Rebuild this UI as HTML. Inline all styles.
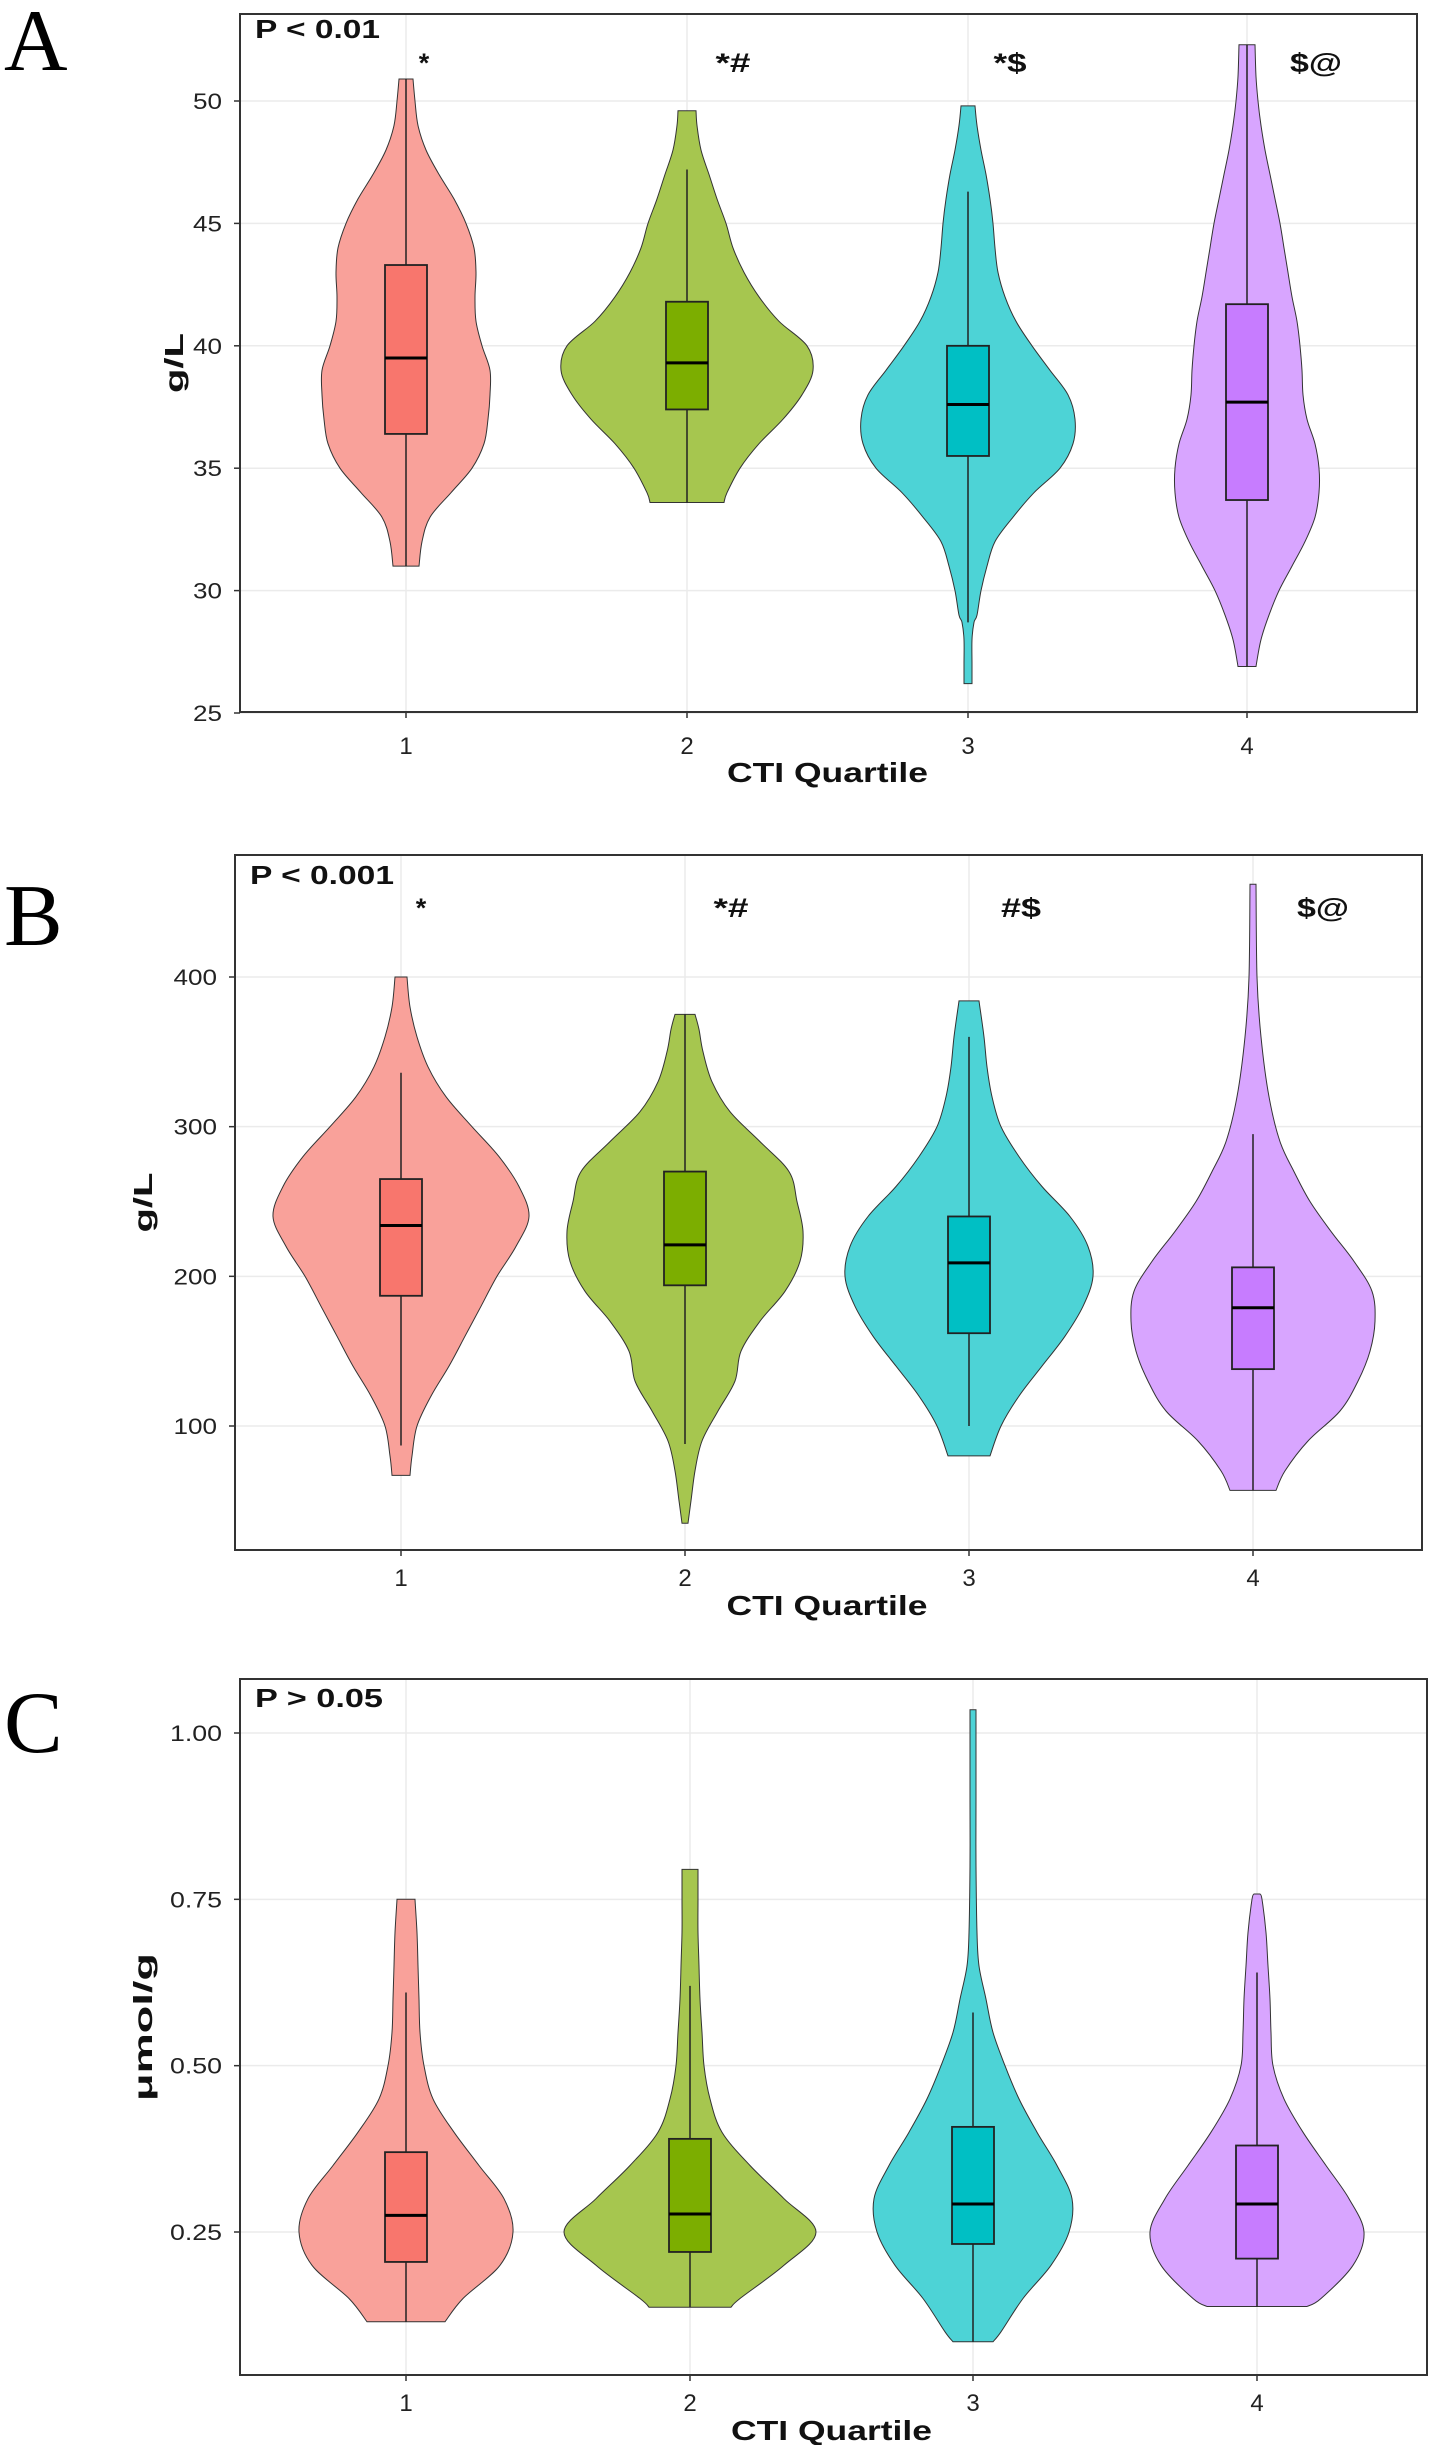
<!DOCTYPE html>
<html><head><meta charset="utf-8">
<style>
html,body{margin:0;padding:0;background:#fff;}
svg{display:block;font-family:"Liberation Sans",Arial,sans-serif;}
</style></head>
<body>
<svg id="chart" width="1429" height="2445" viewBox="0 0 1429 2445" xmlns="http://www.w3.org/2000/svg"></svg>
<script>
// ---- data ----
const categories = ["1","2","3","4"];
const fills = ["#F9A19A","#A6C64F","#4DD3D6","#D8A5FF"];
const boxFills = ["#F8766D","#7CAE00","#00BFC4","#C77CFF"];

// Panel A: [value, density half-width]
const violinA = [
 [[31,13],[32,16],[33,24],[34,45],[35,66],[36,78],[37,82],[38,84],[39,84],[40,76],[41,70],[42,69],[43,70],[44,68],[45,60],[46,48],[47,33],[48,20],[49,12],[50,9],[50.9,7]],
 [[33.6,37],[34,40],[35,53],[36,72],[37,96],[38,115],[39,126],[40,120],[41,92],[42,72],[43,57],[44,46],[45,39],[46,30],[47,22],[48,14],[49,10],[49.6,9]],
 [[26.2,4],[27,4],[28,4],[28.7,6],[29,9],[30,13],[31,19],[32,27],[33,45],[34,66],[35,92],[36,105],[37,107],[38,100],[39,82],[40,64],[41,48],[42,37],[43,30],[44,27],[45,25],[46,22],[47,18],[48,13],[49,9],[49.8,7]],
 [[26.9,9],[28,14],[29,22],[30,32],[31,45],[32,58],[33,68],[34,72],[35,72],[36,68],[37,60],[38,56],[39,55],[40,53],[41,50],[42,45],[43,41],[44,37],[45,33],[46,28],[47,23],[48,18],[49,14],[50,11],[51,9],[52.3,8]]
];
const boxA = [[31.0,36.4,39.5,43.3,50.9],[33.6,37.4,39.3,41.8,47.2],[28.7,35.5,37.6,40.0,46.3],[26.9,33.7,37.7,41.7,52.3]];
const ticksA = [25,30,35,40,45,50];
const tickLabelsA = ["25","30","35","40","45","50"];
const annotA = ["*","*#","*$","$@"];

// Panel B
const violinB = [
 [[67,9],[80,11],[100,16],[120,30],[140,48],[160,64],[180,80],[200,96],[220,115],[240,128],[260,118],[280,98],[300,71],[320,45],[340,27],[360,16],[380,9],[400,6]],
 [[35,3],[50,6],[70,10],[90,17],[110,33],[130,50],[150,56],[170,75],[190,100],[210,115],[230,118],[250,112],[270,104],[290,75],[310,45],[330,27],[350,18],[365,14],[375,10]],
 [[80,21],[100,32],[120,50],[140,73],[160,96],[180,114],[200,124],[220,119],[240,101],[260,73],[280,50],[300,32],[320,23],[340,18],[360,15],[384,10]],
 [[57,23],[70,32],[90,55],[110,87],[130,105],[150,117],[170,122],[190,119],[210,101],[230,78],[250,57],[270,41],[290,27],[320,16],[360,8],[400,4],[462,3]]
];
const boxB = [[87,187,234,265,336],[88,194,221,270,375],[100,162,209,240,360],[57,138,179,206,295]];
const ticksB = [100,200,300,400];
const tickLabelsB = ["100","200","300","400"];
const annotB = ["*","*#","#$","$@"];

// Panel C
const violinC = [
 [[0.115,39],[0.15,57],[0.2,94],[0.25,107],[0.3,98],[0.35,73],[0.4,48],[0.45,27],[0.5,18],[0.55,14],[0.6,13],[0.65,12],[0.7,11],[0.75,9]],
 [[0.137,41],[0.15,50],[0.2,94],[0.25,126],[0.3,94],[0.35,60],[0.4,32],[0.45,20],[0.5,14],[0.55,12],[0.6,10],[0.65,9],[0.7,8],[0.75,8],[0.795,8]],
 [[0.085,20],[0.1,28],[0.15,50],[0.2,78],[0.25,96],[0.3,99],[0.35,84],[0.4,64],[0.45,46],[0.5,32],[0.55,20],[0.6,13],[0.65,6],[0.7,4],[0.8,3],[0.9,3],[1.0,3],[1.035,3]],
 [[0.138,50],[0.15,64],[0.2,96],[0.25,107],[0.3,92],[0.35,69],[0.4,46],[0.45,27],[0.5,16],[0.55,14],[0.6,13],[0.65,11],[0.7,9],[0.75,5],[0.758,3]]
];
const boxC = [[0.115,0.205,0.275,0.37,0.61],[0.137,0.22,0.277,0.39,0.62],[0.085,0.232,0.292,0.408,0.58],[0.138,0.21,0.292,0.38,0.64]];
const ticksC = [0.25,0.5,0.75,1.0];
const tickLabelsC = ["0.25","0.50","0.75","1.00"];
const annotC = ["","","",""];

// ---- layout ----
const NS = "http://www.w3.org/2000/svg";
const svg = document.getElementById("chart");
function mk(tag, attrs, parent){ const e=document.createElementNS(NS,tag); for(const k in attrs) e.setAttribute(k,attrs[k]); (parent||svg).appendChild(e); return e; }
function txt(s, attrs, parent, len){ const t=mk("text",attrs,parent); t.textContent=s; if(len){t.setAttribute("textLength",len);t.setAttribute("lengthAdjust","spacingAndGlyphs");} return t; }
function smooth(pts){
  // Catmull-Rom through pts (array of [x,y]) -> path segments after initial M
  let d="";
  for(let i=0;i<pts.length-1;i++){
    const p0=pts[Math.max(i-1,0)],p1=pts[i],p2=pts[i+1],p3=pts[Math.min(i+2,pts.length-1)];
    const c1=[p1[0]+(p2[0]-p0[0])/6,p1[1]+(p2[1]-p0[1])/6];
    const c2=[p2[0]-(p3[0]-p1[0])/6,p2[1]-(p3[1]-p1[1])/6];
    d+="C"+c1[0].toFixed(1)+","+c1[1].toFixed(1)+" "+c2[0].toFixed(1)+","+c2[1].toFixed(1)+" "+p2[0].toFixed(1)+","+p2[1].toFixed(1);
  }
  return d;
}
const annLen = {"*":null,"*#":35,"*$":33,"#$":40,"$@":52};

const panels = [
 {id:"a", letter:"A", letterY:70, box:[240,14,1417,712], v0:50, y0:101, v1:25, y1:713, cx:[406,687,968,1247],
  violins:violinA, boxes:boxA, ticks:ticksA, tickLabels:tickLabelsA, annots:annotA, annY:72, annX:[424,733,1010,1316],
  p:"P < 0.01", pY:38, pLen:125, yl:"g/L", ylX:183, ylLen:60, xtY:754, titleY:782},
 {id:"b", letter:"B", letterY:945, box:[235,855,1422,1550], v0:400, y0:977, v1:100, y1:1426, cx:[401,685,969,1253],
  violins:violinB, boxes:boxB, ticks:ticksB, tickLabels:tickLabelsB, annots:annotB, annY:917, annX:[421,731,1021,1323],
  p:"P < 0.001", pY:884, pLen:144, yl:"g/L", ylX:152, ylLen:60, xtY:1586, titleY:1615},
 {id:"c", letter:"C", letterY:1752, box:[240,1679,1427,2375], v0:1.0, y0:1733, v1:0.25, y1:2232, cx:[406,690,973,1257],
  violins:violinC, boxes:boxC, ticks:ticksC, tickLabels:tickLabelsC, annots:annotC, annY:0, annX:[0,0,0,0],
  p:"P > 0.05", pY:1707, pLen:128, yl:"μmol/g", ylX:152, ylLen:148, xtY:2411, titleY:2440}
];

panels.forEach(P=>{
  const g = mk("g",{});
  
  
  const ys = v => P.y0 + (v - P.v0)*(P.y1-P.y0)/(P.v1-P.v0);
  const [L,T,R,B] = P.box;
  const letter = txt(P.letter,{x:4,y:P.letterY,"font-family":"Liberation Serif, serif","font-size":88,fill:"#000"},g);
  
  
  P.ticks.forEach((t,i)=>{
    const gl = mk("line",{x1:L,x2:R,y1:ys(t),y2:ys(t),stroke:"#ebebeb","stroke-width":1.5},g);
    
    
  });
  P.cx.forEach(x=>{
    const gl = mk("line",{x1:x,x2:x,y1:T,y2:B,stroke:"#ebebeb","stroke-width":1.5},g);
    
    
  });
  P.violins.forEach((pts,i)=>{
    const cx = P.cx[i];
    const right = pts.map(p=>[cx+p[1], ys(p[0])]);
    const left = pts.slice().reverse().map(p=>[cx-p[1], ys(p[0])]);
    let d = "M"+(cx-pts[0][1]).toFixed(1)+","+ys(pts[0][0]).toFixed(1)+"L"+right[0][0].toFixed(1)+","+right[0][1].toFixed(1);
    d += smooth(right);
    d += "L"+left[0][0].toFixed(1)+","+left[0][1].toFixed(1);
    d += smooth(left) + "Z";
    const v = mk("path",{d:d,fill:fills[i],stroke:"#333","stroke-width":1},g);
    
    
    const b = P.boxes[i];
    const w = mk("line",{x1:cx,x2:cx,y1:ys(b[0]),y2:ys(b[4]),stroke:"#222","stroke-width":1.5},g);
    
    
    const r = mk("rect",{x:cx-21,y:ys(b[3]),width:42,height:ys(b[1])-ys(b[3]),fill:boxFills[i],stroke:"#222","stroke-width":1.8},g);
    
    
    const m = mk("line",{x1:cx-21,x2:cx+21,y1:ys(b[2]),y2:ys(b[2]),stroke:"#000","stroke-width":3},g);
    
    
    if(P.annots[i]){
      const a = txt(P.annots[i],{x:P.annX[i],y:P.annY,"text-anchor":"middle","font-size":27,"font-weight":"bold",fill:"#111"},g, annLen[P.annots[i]]);
      
      
    }
    mk("line",{x1:cx,x2:cx,y1:B,y2:B+6,stroke:"#333","stroke-width":1.5},g);
    const xt = txt(categories[i],{x:cx,y:P.xtY,"text-anchor":"middle","font-size":24,fill:"#222"},g);
    
    
  });
  const fr = mk("rect",{x:L,y:T,width:R-L,height:B-T,fill:"none",stroke:"#333","stroke-width":2},g);
  
  
  P.ticks.forEach((t,i)=>{
    mk("line",{x1:L-6,x2:L,y1:ys(t),y2:ys(t),stroke:"#333","stroke-width":1.5},g);
    const lab = P.tickLabels[i];
    const yt = txt(lab,{x:L-18,y:ys(t)+8,"text-anchor":"end","font-size":22,fill:"#222"},g, lab.length*14.5+(lab.indexOf(".")>=0?-6:0));
    
    
  });
  const pt = txt(P.p,{x:L+15,y:P.pY,"font-size":26,"font-weight":"bold",fill:"#111"},g,P.pLen);
  
  
  const cyl = (T+B)/2;
  const yl = txt(P.yl,{x:P.ylX,y:cyl,"text-anchor":"middle","font-size":26,"font-weight":"bold",fill:"#111",transform:"rotate(-90 "+P.ylX+" "+cyl+")"},g,P.ylLen);
  
  
  const xt = txt("CTI Quartile",{x:(P.cx[1]+P.cx[2])/2,y:P.titleY,"text-anchor":"middle","font-size":28,"font-weight":"bold",fill:"#111"},g,201);
  
  
});
</script>
</body></html>
